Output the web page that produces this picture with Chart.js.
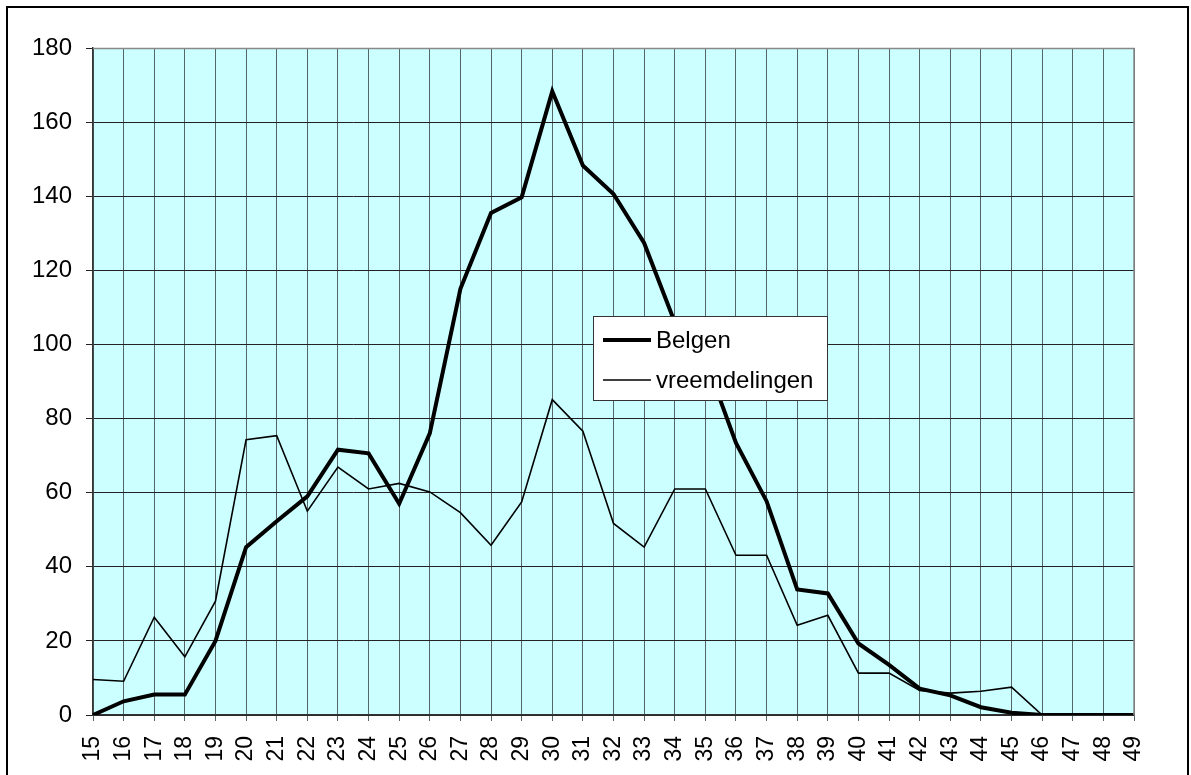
<!DOCTYPE html>
<html>
<head>
<meta charset="utf-8">
<title>Belgen en vreemdelingen</title>
<script src="https://cdn.jsdelivr.net/npm/chart.js@4/dist/chart.umd.min.js"></script>
<style>
    body { margin: 0; background: #fff; }
    #wrap { position: relative; width: 1191px; height: 775px; }
</style>
</head>
<body>
<div id="wrap"><canvas id="chart" width="1191" height="775"></canvas></div>
<script>
const ages = ['15', '16', '17', '18', '19', '20', '21', '22', '23', '24', '25', '26', '27', '28', '29', '30', '31', '32',
    '33', '34', '35', '36', '37', '38', '39', '40', '41', '42', '43', '44', '45', '46', '47', '48', '49'];

const belgen = [0, 3.7, 5.5, 5.5, 20, 45.3, 52.3, 59, 71.6, 70.6, 57, 76, 115, 135.5, 139.7, 168.3, 148.3, 140.6,
    127.4, 106, 96, 73.4, 57.7, 33.9, 32.8, 19.3, 13.5, 7.1, 5.3, 2.1, 0.6, 0, 0, 0, 0];

const vreemdelingen = [9.6, 9.1, 26.4, 15.7, 30.7, 74.3, 75.4, 55, 66.9, 61, 62.5, 60.2, 54.6, 45.8, 57.5, 85.1, 76.6, 51.7,
    45.3, 61, 61, 43.1, 43.1, 24.2, 26.9, 11.3, 11.3, 6.6, 5.9, 6.4, 7.5, 0, 0, 0, 0];

const yTicks = [0, 20, 40, 60, 80, 100, 120, 140, 160, 180];

const FONT = '"Liberation Sans", Arial, sans-serif';

document.addEventListener('DOMContentLoaded', () => {
    const ctx = document.getElementById('chart');

    // cyan plot background, outer frame, top/right plot edge
    const frame = {
        id: 'frame',
        beforeDraw(chart) {
            const c = chart.ctx;
            const a = chart.chartArea;
            c.save();
            c.fillStyle = '#fff';
            c.fillRect(0, 0, chart.width, chart.height);
            c.strokeStyle = '#000';
            c.lineWidth = 2;
            c.strokeRect(7, 7, 1181, 790);
            c.fillStyle = '#ccffff';
            c.fillRect(a.left, a.top, a.right - a.left, a.bottom - a.top);
            c.restore();
        },
        afterDatasetsDraw(chart) {
            const c = chart.ctx;
            const a = chart.chartArea;
            c.save();
            c.strokeStyle = '#888';
            c.lineWidth = 1.5;
            c.beginPath();
            c.moveTo(a.left, a.top + 0.5);
            c.lineTo(a.right, a.top + 0.5);
            c.lineTo(a.right, a.bottom);
            c.stroke();
            c.restore();
        }
    };

    // legend box sitting inside the plot
    const boxLegend = {
        id: 'boxLegend',
        afterDraw(chart) {
            const c = chart.ctx;
            const x = 593, y = 316, w = 234, h = 84;
            c.save();
            c.fillStyle = '#999';
            c.fillRect(x + 1, y + 1, w, h);
            c.fillStyle = '#fff';
            c.fillRect(x, y, w, h);
            c.strokeStyle = '#333';
            c.lineWidth = 1;
            c.strokeRect(x + 0.5, y + 0.5, w, h);
            c.font = '24px ' + FONT;
            c.textBaseline = 'middle';
            chart.data.datasets.forEach((ds, i) => {
                const ly = y + 24 + i * 40;
                c.strokeStyle = ds.borderColor;
                c.lineWidth = ds.borderWidth;
                c.beginPath();
                c.moveTo(x + 10, ly);
                c.lineTo(x + 58, ly);
                c.stroke();
                c.fillStyle = '#000';
                c.fillText(ds.label, x + 63, ly + 1);
            });
            c.restore();
        }
    };

    new Chart(ctx, {
        type: 'line',
        data: {
            labels: ages,
            datasets: [{
                label: 'Belgen',
                data: belgen,
                borderColor: '#000',
                borderWidth: 4,
                pointRadius: 0,
                tension: 0
            }, {
                label: 'vreemdelingen',
                data: vreemdelingen,
                borderColor: '#000',
                borderWidth: 1.6,
                pointRadius: 0,
                tension: 0
            }]
        },
        options: {
            responsive: false,
            animation: false,
            layout: { padding: { left: 0, top: 48, right: 57, bottom: 0 } },
            plugins: {
                legend: { display: false },
                tooltip: { enabled: false }
            },
            scales: {
                x: {
                    offset: false,
                    afterFit: axis => { axis.height = 60; },
                    grid: { color: '#556666', lineWidth: 1, tickLength: 6 },
                    border: { color: '#333', width: 1.5 },
                    ticks: {
                        autoSkip: false,
                        maxRotation: 90,
                        minRotation: 90,
                        padding: 15,
                        color: '#000',
                        font: { family: FONT, size: 23 }
                    }
                },
                y: {
                    min: 0,
                    max: 180,
                    afterFit: axis => { axis.width = 93; },
                    afterBuildTicks: axis => { axis.ticks = yTicks.map(v => ({ value: v })); },
                    grid: { color: '#222', lineWidth: 1, tickLength: 7 },
                    border: { color: '#333', width: 1.5 },
                    ticks: {
                        padding: 14,
                        color: '#000',
                        font: { family: FONT, size: 24 }
                    }
                }
            }
        },
        plugins: [frame, boxLegend]
    });
});
</script>
</body>
</html>
